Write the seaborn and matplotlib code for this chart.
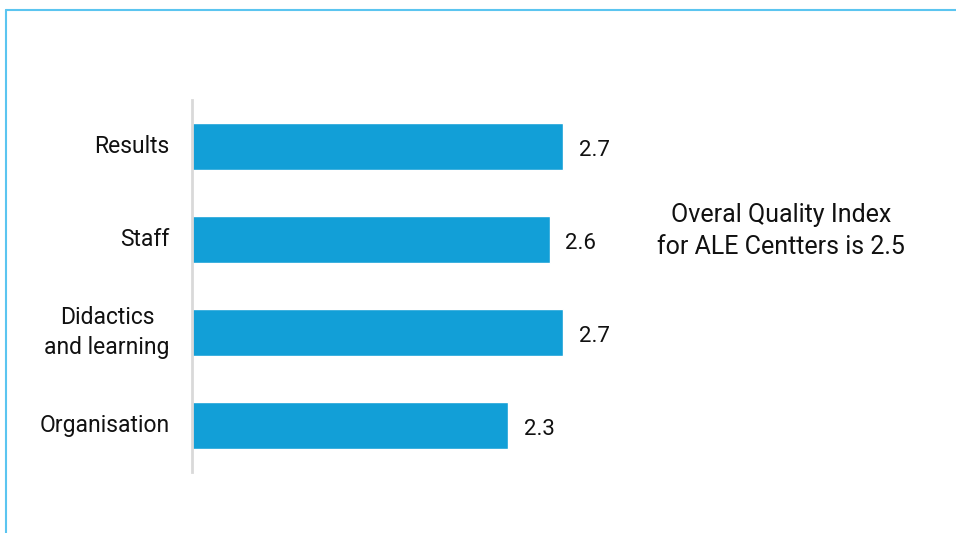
import matplotlib
matplotlib.use("Agg")
import matplotlib.pyplot as plt
import seaborn as sns
import pandas as pd
from matplotlib.lines import Line2D

categories = ["Results", "Staff", "Didactics\nand learning", "Organisation"]
values = [2.7, 2.6, 2.7, 2.3]
value_labels = ["2.7", "2.6", "2.7", "2.3"]
note = "Overal Quality Index\nfor ALE Centters is 2.5"

sns.set_theme(style="white")
plt.rcParams['font.family'] = ['Roboto', 'DejaVu Sans']

df = pd.DataFrame({"category": categories, "value": values})

fig = plt.figure(figsize=(9.56, 5.33), dpi=100)
ax = fig.add_axes([192/956, 1-472/533, 550/956, 372/533])
sns.barplot(data=df, x="value", y="category", orient="h", color="#129FD7",
            width=0.5, saturation=1, ax=ax)
ax.set_xlim(0, 4)
ax.set_ylim(3.5, -0.5)
ax.set_xlabel("")
ax.set_ylabel("")
ax.set_xticks([])
ax.set_yticks(range(len(categories)), labels=categories,
              multialignment="center", linespacing=1.35, va="center")
for s in ["top", "right", "bottom"]:
    ax.spines[s].set_visible(False)
ax.spines["left"].set_color("#d9d9d9")
ax.spines["left"].set_linewidth(2)
ax.tick_params(axis="y", length=0, pad=16, labelsize=16.5, labelcolor="#111111")

for i, (v, t) in enumerate(zip(values, value_labels)):
    ax.annotate(t, xy=(v, i), xytext=(11, -3), textcoords="offset points",
                ha="left", va="center", fontsize=16, color="#111111")

fig.text(781/956, 1-231/533, note, ha="center", va="center", fontsize=18,
         color="#111111", linespacing=1.45)

fig.add_artist(Line2D([6/956, 1], [1-10/533, 1-10/533], color="#5BC5F0",
                      lw=1.5, transform=fig.transFigure))
fig.add_artist(Line2D([6/956, 6/956], [1-10/533, 0], color="#5BC5F0",
                      lw=1.5, transform=fig.transFigure))

fig.savefig("out.png", dpi=100)
